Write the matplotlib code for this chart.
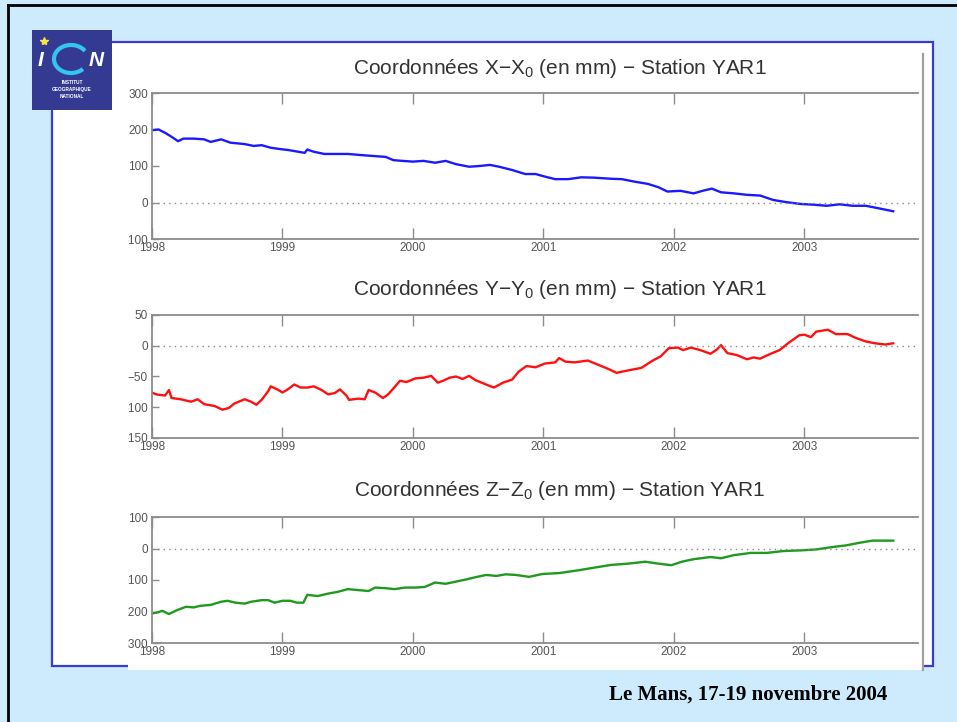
import matplotlib
matplotlib.use("Agg")
import matplotlib.pyplot as plt
from matplotlib.patches import Rectangle, Arc
from matplotlib.lines import Line2D

plt.rcParams["font.family"] = ["Liberation Sans", "DejaVu Sans"]
plt.rcParams["mathtext.default"] = "regular"

# --- séries (année décimale, mm) ---
tx = [1998.00, 1998.05, 1998.10, 1998.15, 1998.20, 1998.24, 1998.32, 1998.40, 1998.45, 1998.53,
      1998.60, 1998.71, 1998.78, 1998.84, 1998.91, 1998.99, 1999.04, 1999.09, 1999.17, 1999.19,
      1999.24, 1999.32, 1999.40, 1999.50, 1999.60, 1999.71, 1999.79, 1999.85, 1999.92, 2000.00,
      2000.08, 2000.17, 2000.25, 2000.33, 2000.43, 2000.51, 2000.59, 2000.66, 2000.76, 2000.86,
      2000.94, 2001.01, 2001.09, 2001.19, 2001.29, 2001.39, 2001.52, 2001.60, 2001.70, 2001.80,
      2001.88, 2001.95, 2002.05, 2002.15, 2002.23, 2002.29, 2002.36, 2002.46, 2002.56, 2002.66,
      2002.76, 2002.86, 2002.97, 2003.07, 2003.17, 2003.27, 2003.37, 2003.47, 2003.57, 2003.68]
vx = [198, 200, 191, 180, 168, 175, 175, 173, 166, 173,
      164, 160, 155, 157, 150, 146, 144, 141, 136, 145,
      139, 133, 133, 133, 130, 127, 125, 116, 114, 112,
      114, 109, 114, 105, 98, 100, 103, 98, 89, 78,
      78, 71, 64, 64, 69, 68, 65, 64, 57, 51,
      42, 30, 32, 25, 33, 38, 28, 25, 21, 19,
      7, 1, -4, -6, -9, -5, -9, -9, -16, -24]

ty = [1998.00, 1998.03, 1998.10, 1998.13, 1998.15, 1998.22, 1998.30, 1998.35, 1998.40, 1998.48,
      1998.54, 1998.59, 1998.63, 1998.71, 1998.76, 1998.80, 1998.84, 1998.89, 1998.91, 1998.96,
      1999.00, 1999.04, 1999.09, 1999.14, 1999.19, 1999.24, 1999.30, 1999.35, 1999.40, 1999.44,
      1999.49, 1999.51, 1999.58, 1999.63, 1999.66, 1999.71, 1999.77, 1999.81, 1999.86, 1999.90,
      1999.95, 2000.02, 2000.08, 2000.14, 2000.19, 2000.23, 2000.28, 2000.33, 2000.38, 2000.43,
      2000.48, 2000.56, 2000.62, 2000.69, 2000.76, 2000.81, 2000.87, 2000.94, 2001.01, 2001.09,
      2001.12, 2001.17, 2001.24, 2001.34, 2001.42, 2001.50, 2001.56, 2001.65, 2001.75, 2001.83,
      2001.90, 2001.96, 2002.03, 2002.07, 2002.13, 2002.20, 2002.28, 2002.33, 2002.36, 2002.41,
      2002.48, 2002.56, 2002.61, 2002.66, 2002.73, 2002.81, 2002.88, 2002.96, 2003.00, 2003.05,
      2003.09, 2003.18, 2003.24, 2003.33, 2003.39, 2003.47, 2003.54, 2003.62, 2003.68]
vy = [-76, -79, -81, -72, -85, -87, -91, -87, -95, -98,
      -104, -101, -94, -87, -91, -96, -88, -74, -66, -71,
      -76, -71, -63, -68, -68, -66, -72, -79, -77, -71,
      -81, -88, -86, -87, -72, -76, -85, -79, -67, -57,
      -59, -53, -52, -49, -60, -57, -52, -50, -54, -49,
      -56, -63, -68, -60, -55, -42, -33, -35, -29, -27,
      -20, -26, -27, -24, -31, -38, -44, -40, -36, -25,
      -17, -4, -3, -7, -3, -7, -13, -6, 1, -12,
      -15, -22, -19, -21, -14, -7, 5, 17, 18, 14,
      23, 26, 19, 19, 13, 7, 4, 2, 4]

tz = [1998.00, 1998.04, 1998.08, 1998.13, 1998.19, 1998.26, 1998.32, 1998.37, 1998.45, 1998.53,
      1998.58, 1998.64, 1998.71, 1998.76, 1998.84, 1998.89, 1998.94, 1999.00, 1999.06, 1999.11,
      1999.16, 1999.19, 1999.27, 1999.35, 1999.42, 1999.50, 1999.58, 1999.66, 1999.71, 1999.79,
      1999.86, 1999.94, 2000.02, 2000.09, 2000.17, 2000.25, 2000.33, 2000.41, 2000.48, 2000.56,
      2000.64, 2000.71, 2000.79, 2000.89, 2000.99, 2001.12, 2001.27, 2001.40, 2001.52, 2001.65,
      2001.78, 2001.88, 2001.98, 2002.06, 2002.15, 2002.28, 2002.36, 2002.46, 2002.59, 2002.71,
      2002.84, 2002.97, 2003.09, 2003.22, 2003.32, 2003.42, 2003.52, 2003.60, 2003.68]
vz = [-206, -203, -198, -208, -196, -185, -187, -182, -179, -169,
      -166, -172, -175, -169, -164, -164, -172, -166, -166, -172,
      -172, -147, -151, -143, -138, -129, -132, -135, -124, -126,
      -129, -124, -124, -122, -108, -112, -105, -98, -91, -84,
      -87, -82, -84, -90, -81, -78, -69, -60, -52, -48,
      -42, -48, -53, -42, -34, -27, -31, -21, -14, -14,
      -8, -6, -3, 5, 10, 18, 25, 25, 25]

years = [1998, 1999, 2000, 2001, 2002, 2003]
yticks_x = [-100, 0, 100, 200, 300]
yticks_y = [-150, -100, -50, 0, 50]
yticks_z = [-300, -200, -100, 0, 100]

W, H = 957, 722


def fx(x):
    return x / W


def fy(y):
    return 1 - y / H


fig = plt.figure(figsize=(W / 100, H / 100), dpi=100)
fig.patch.set_facecolor("#cdebfc")

# cadre de la diapo
fig.add_artist(Line2D([fx(8), 1], [fy(5), fy(5)], color="black", lw=2, transform=fig.transFigure))
fig.add_artist(Line2D([fx(8), fx(8)], [fy(5), 0], color="black", lw=2, transform=fig.transFigure))
fig.add_artist(Rectangle((fx(52), fy(666)), (933 - 52) / W, (666 - 42) / H,
                         transform=fig.transFigure, facecolor="white",
                         edgecolor="#3a3ad8", lw=1.6, zorder=-3))
# zone blanche de la figure collée
fig.add_artist(Rectangle((fx(128), fy(670)), (923 - 128) / W, (670 - 54) / H,
                         transform=fig.transFigure, facecolor="white",
                         edgecolor="none", zorder=-2))
fig.add_artist(Line2D([fx(923), fx(923)], [fy(54), fy(670)], color="#a0a0a0", lw=1.6,
                      transform=fig.transFigure, zorder=-1))

panels = [
    (93, 239, tx, vx, "#1a1aff", (-100, 300), yticks_x, "X", 68),
    (315, 438, ty, vy, "#ff1010", (-150, 50), yticks_y, "Y", 289),
    (517, 643, tz, vz, "#1e9a1e", (-300, 100), yticks_z, "Z", 491),
]

for top, bot, t, v, col, ylim, yt, name, ytitle in panels:
    ax = fig.add_axes([fx(152), fy(bot), (918 - 152) / W, (bot - top) / H])
    ax.set_facecolor("none")
    ax.plot(t, v, color=col, lw=1.7)
    ax.axhline(0, color="#8a8a8a", ls=(0, (1, 3)), lw=1)
    ax.set_xlim(1998, 2003.87)
    ax.set_ylim(*ylim)
    ax.set_xticks(years)
    ax.set_xticklabels([str(y) for y in years])
    ax.set_yticks(yt)
    for s in ("left", "top", "bottom"):
        ax.spines[s].set_color("#8c8c8c")
        ax.spines[s].set_linewidth(1.3)
    ax.spines["right"].set_visible(False)
    ax.tick_params(axis="x", direction="in", length=8, width=1, color="#8c8c8c",
                   labelcolor="#555555", labelsize=8.5, top=True, pad=2)
    ax.tick_params(axis="y", direction="in", length=5, width=1, color="#8c8c8c",
                   labelcolor="#555555", labelsize=8.5, pad=3)
    fig.text(fx(560), fy(ytitle),
             f"Coordonnées {name}−{name}$_0$ (en mm) − Station YAR1",
             ha="center", va="center", fontsize=15, color="#333333")

# cache à gauche de la figure collée (coupe les étiquettes)
fig.add_artist(Rectangle((fx(54), fy(664)), (128 - 54) / W, (664 - 44) / H,
                         transform=fig.transFigure, facecolor="white",
                         edgecolor="none", zorder=1))

fig.text(fx(748), fy(695), "Le Mans, 17-19 novembre 2004", family="Liberation Serif",
         weight="bold", fontsize=15, ha="center", va="center", color="black")

# logo IGN
lax = fig.add_axes([fx(32), fy(110), 80 / W, 80 / H], zorder=3)
lax.set_xlim(0, 80)
lax.set_ylim(80, 0)
lax.axis("off")
lax.add_patch(Rectangle((0, 0), 80, 80, facecolor="#343a92", edgecolor="none"))
lax.plot([12], [11], marker="*", color="#f5e642", ms=6)
lax.text(9, 30, "I", color="white", fontsize=15, weight="bold", style="italic",
         ha="center", va="center")
lax.add_patch(Arc((39, 29), 34, 28, theta1=40, theta2=330, color="#34c6ee", lw=3))
lax.text(64, 30, "N", color="white", fontsize=15, weight="bold", style="italic",
         ha="center", va="center")
for yy, txt in [(52, "INSTITUT"), (59, "GEOGRAPHIQUE"), (66, "NATIONAL")]:
    lax.text(40, yy, txt, color="white", fontsize=3.4, weight="bold",
             ha="center", va="center")

fig.savefig("out.png", dpi=100, facecolor=fig.get_facecolor())
